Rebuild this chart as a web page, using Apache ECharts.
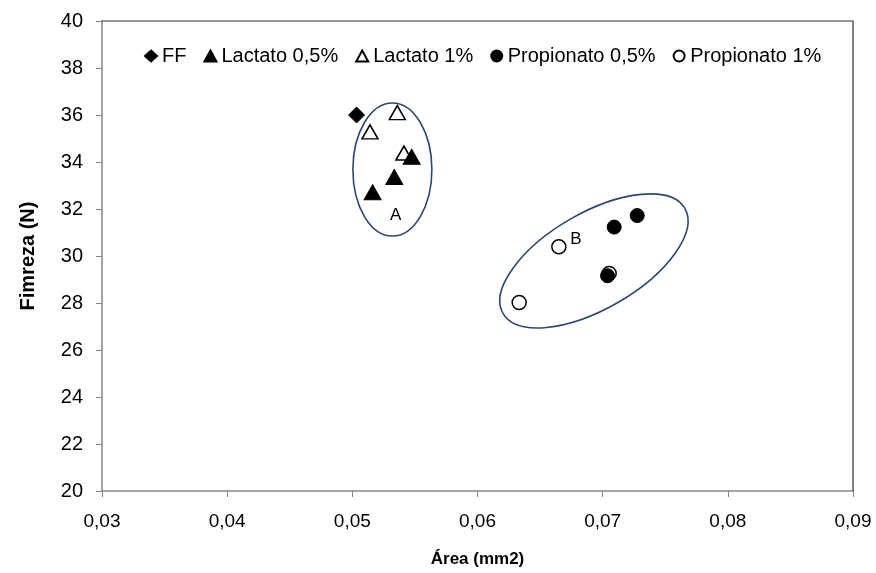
<!DOCTYPE html>
<html>
<head>
<meta charset="utf-8">
<script src="https://cdn.jsdelivr.net/npm/echarts@6/dist/echarts.min.js"></script>
<style>
    html, body { margin: 0; padding: 0; background: #fff; }
    #chart { width: 876px; height: 573px; }
</style>
</head>
<body>
<div id="chart"></div>
<script>
// datos: [área, firmeza]
var seriesNames = ['FF', 'Lactato 0,5%', 'Lactato 1%', 'Propionato 0,5%', 'Propionato 1%'];
var ffData = [[0.05034, 36.0]];
var lactato05 = [[0.05474, 34.22], [0.05335, 33.36], [0.05162, 32.71]];
var lactato1 = [[0.05359, 36.10], [0.05141, 35.28], [0.05412, 34.38]];
var propionato05 = [[0.07092, 31.23], [0.07276, 31.72], [0.07039, 29.16]];
var propionato1 = [[0.06333, 28.02], [0.0665, 30.39], [0.07052, 29.26]];
var groupLabels = [['A', 0.05346, 31.73], ['B', 0.06786, 30.70]];
var xTicks = [0.03, 0.09, 0.01];
var yTicks = [20, 40, 2];

var font = "'Liberation Sans', Arial, sans-serif";

var myChart = echarts.init(document.getElementById('chart'));

var filled = { color: '#000', borderColor: '#000', borderWidth: 1, opacity: 1 };
var hollow = { color: '#fff', borderColor: '#000', borderWidth: 1.5, opacity: 1 };

var options = {
    animation: false,
    backgroundColor: '#fff',
    grid: { left: 102, right: 23, top: 21, bottom: 79 },
    legend: {
        top: 41,
        left: 139,
        itemGap: 17,
        itemWidth: 12,
        itemHeight: 11,
        data: seriesNames,
        textStyle: { fontFamily: font, fontSize: 20, color: '#000' }
    },
    xAxis: {
        type: 'value',
        min: xTicks[0], max: xTicks[1], interval: xTicks[2],
        name: 'Área (mm2)',
        nameLocation: 'middle',
        nameGap: 60,
        nameTextStyle: { fontFamily: font, fontSize: 17, fontWeight: 'bold', color: '#000' },
        axisLine: { lineStyle: { color: '#868686', width: 1.5 } },
        axisTick: { show: true, length: 6, lineStyle: { color: '#868686' } },
        axisLabel: {
            margin: 21, fontFamily: font, fontSize: 19, color: '#000',
            formatter: function (v) { return v.toFixed(2).replace('.', ','); }
        },
        splitLine: { show: false }
    },
    yAxis: {
        type: 'value',
        min: yTicks[0], max: yTicks[1], interval: yTicks[2],
        name: 'Fimreza (N)',
        nameLocation: 'middle',
        nameGap: 64,
        nameTextStyle: { fontFamily: font, fontSize: 20, fontWeight: 'bold', color: '#000' },
        axisLine: { lineStyle: { color: '#868686', width: 1.5 } },
        axisTick: { show: true, length: 6, lineStyle: { color: '#868686' } },
        axisLabel: { margin: 19, fontFamily: font, fontSize: 20, color: '#000' },
        splitLine: { show: false }
    },
    series: [
        { name: 'FF', type: 'scatter', symbol: 'diamond', symbolSize: 16, z: 3, itemStyle: filled, data: ffData },
        { name: 'Lactato 0,5%', type: 'scatter', symbol: 'triangle', symbolSize: [17, 15], z: 4, itemStyle: filled, data: lactato05 },
        { name: 'Lactato 1%', type: 'scatter', symbol: 'triangle', symbolSize: [16, 14], z: 3, itemStyle: hollow, data: lactato1 },
        { name: 'Propionato 0,5%', type: 'scatter', symbol: 'circle', symbolSize: 14, z: 4, itemStyle: filled, data: propionato05 },
        { name: 'Propionato 1%', type: 'scatter', symbol: 'circle', symbolSize: 14, z: 3, itemStyle: hollow, data: propionato1 }
    ]
};

myChart.setOption(options);

// marco superior y derecho del área de trazado + elipses y letras
function px(x, y) { return myChart.convertToPixel({ gridIndex: 0 }, [x, y]); }
var tl = px(xTicks[0], yTicks[1]);
var br = px(xTicks[1], yTicks[0]);
var cA = px(0.0532, 33.68);
var cB = px(0.0693, 29.79);
var graphics = [
    { type: 'polyline', shape: { points: [[tl[0], tl[1]], [br[0], tl[1]], [br[0], br[1]]] }, style: { stroke: '#333', lineWidth: 1.2, fill: null }, z: 1 },
    { type: 'ellipse', shape: { cx: cA[0], cy: cA[1], rx: 39.5, ry: 66.5 }, style: { stroke: '#2c4770', lineWidth: 1.6, fill: null }, z: 1 },
    { type: 'ellipse', shape: { cx: 0, cy: 0, rx: 105, ry: 48 }, x: cB[0], y: cB[1], rotation: Math.PI / 6, style: { stroke: '#2c4770', lineWidth: 1.6, fill: null }, z: 1 }
];
for (var i = 0; i < groupLabels.length; i++) {
    var p = px(groupLabels[i][1], groupLabels[i][2]);
    graphics.push({ type: 'text', x: p[0], y: p[1], style: { text: groupLabels[i][0], fontFamily: font, fontSize: 17, fill: '#000', align: 'center', verticalAlign: 'middle' }, z: 5 });
}
myChart.setOption({ graphic: graphics });
</script>
</body>
</html>
